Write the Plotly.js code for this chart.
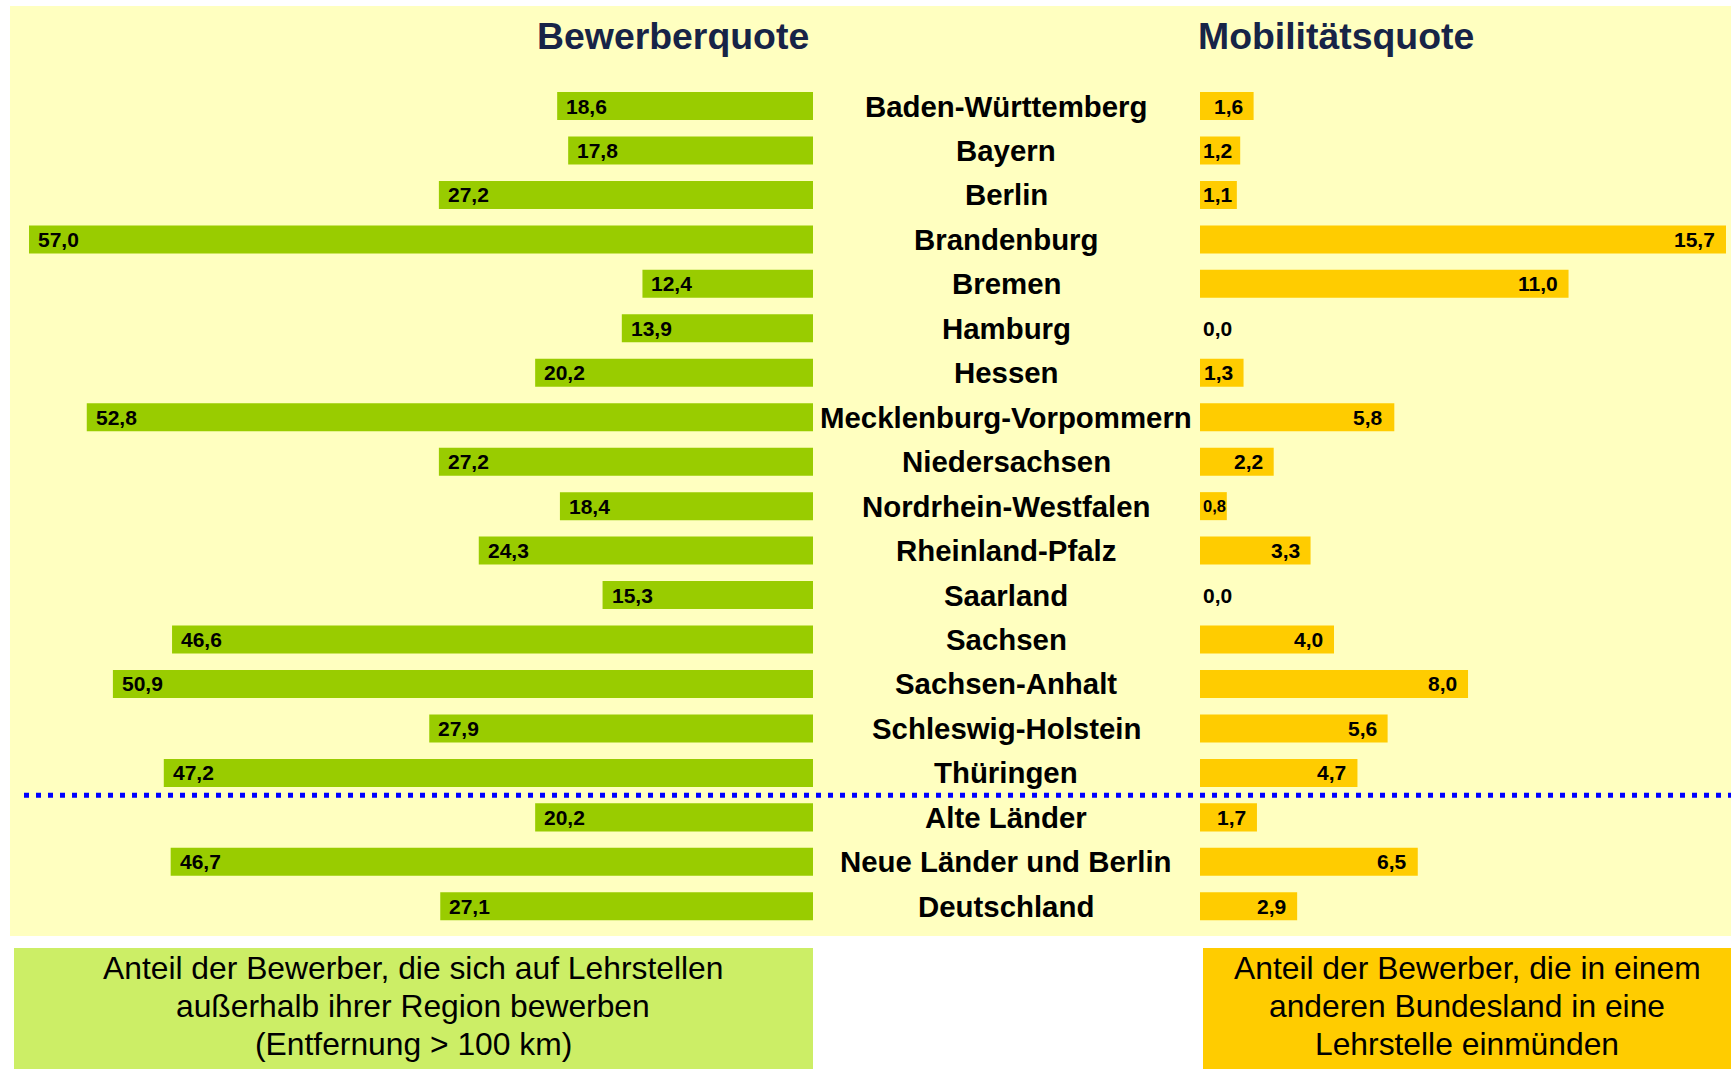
<!DOCTYPE html>
<html>
<head>
<meta charset="utf-8">
<script src="https://cdn.plot.ly/plotly-3.0.1.min.js"></script>
<style>html,body{margin:0;padding:0;background:#fff;}#chart{width:1731px;height:1069px;}</style>
</head>
<body>
<div id="chart"></div>
<script>
const categories = ["Baden-Württemberg","Bayern","Berlin","Brandenburg","Bremen","Hamburg","Hessen","Mecklenburg-Vorpommern","Niedersachsen","Nordrhein-Westfalen","Rheinland-Pfalz","Saarland","Sachsen","Sachsen-Anhalt","Schleswig-Holstein","Thüringen","Alte Länder","Neue Länder und Berlin","Deutschland"];
const bewerberquote = [18.6,17.8,27.2,57.0,12.4,13.9,20.2,52.8,27.2,18.4,24.3,15.3,46.6,50.9,27.9,47.2,20.2,46.7,27.1];
const mobilitaetsquote = [1.6,1.2,1.1,15.7,11.0,0.0,1.3,5.8,2.2,0.8,3.3,0.0,4.0,8.0,5.6,4.7,1.7,6.5,2.9];
const titleLeft = "Bewerberquote";
const titleRight = "Mobilitätsquote";
const noteLeftLines = ["Anteil der Bewerber, die sich auf Lehrstellen", "außerhalb ihrer Region bewerben", "(Entfernung > 100 km)"];
const noteRightLines = ["Anteil der Bewerber, die in einem", "anderen Bundesland in eine", "Lehrstelle einmünden"];

const W = 1731, H = 1069;
const FONT = "Liberation Sans, Arial, sans-serif";
const fmt = v => v.toFixed(1).replace('.', ',');

// geometry (pixels)
const greenRight = 813, greenScale = 784 / 57;      // px per unit
const orangeLeft = 1200, orangeScale = 526 / 15.7;
const row0 = 106, rowStep = (906.3 - 106) / 18;

const xRangeL = [greenRight / greenScale, 0];
const xRangeR = [0, (W - orangeLeft) / orangeScale];
const yRange = [(H - row0) / rowStep, -row0 / rowStep];

const px = x => x / W;
const py = y => 1 - y / H;

const traces = [
  {type:'bar', orientation:'h', x: bewerberquote, y: categories, xaxis:'x', yaxis:'y',
   marker:{color:'#99CC00', line:{width:0}}, width:0.63, hoverinfo:'skip'},
  {type:'bar', orientation:'h', x: mobilitaetsquote, y: categories, xaxis:'x2', yaxis:'y',
   marker:{color:'#FFCC00', line:{width:0}}, width:0.63, hoverinfo:'skip'}
];

const annotations = [];
// category labels
categories.forEach(c => {
  annotations.push({xref:'paper', yref:'y', x: px(1006), y: c, text: '<b>' + c + '</b>',
    showarrow:false, xanchor:'center', yanchor:'middle',
    font:{family:FONT, size:29.4, color:'#000'}});
});
// green value labels (at the outer/left end of bar)
bewerberquote.forEach((v, i) => {
  annotations.push({xref:'x', yref:'y', x: v, y: categories[i], text:'<b>' + fmt(v) + '</b>',
    showarrow:false, xanchor:'left', yanchor:'middle', xshift: 7,
    font:{family:FONT, size:21, color:'#000'}});
});
// orange value labels
mobilitaetsquote.forEach((v, i) => {
  const barPx = v * orangeScale;
  const tw = 29;
  let size = 21, anchor, xs, xv;
  if (v > 0 && barPx < tw + 3) size = 16.5;
  if (barPx - 10 >= tw + 2) { anchor = 'right'; xv = v; xs = -9; }
  else { anchor = 'left'; xv = 0; xs = 1; }
  annotations.push({xref:'x2', yref:'y', x: xv, y: categories[i], text:'<b>' + fmt(v) + '</b>',
    showarrow:false, xanchor: anchor, yanchor:'middle', xshift: xs,
    font:{family:FONT, size:size, color:'#000'}});
});
// titles
annotations.push({xref:'paper', yref:'paper', x: px(811), y: py(36), text:'<b>' + titleLeft + '</b>',
  showarrow:false, xanchor:'right', yanchor:'middle', font:{family:FONT, size:37.4, color:'#172447'}});
annotations.push({xref:'paper', yref:'paper', x: px(1196), y: py(36), text:'<b>' + titleRight + '</b>',
  showarrow:false, xanchor:'left', yanchor:'middle', font:{family:FONT, size:37.4, color:'#172447'}});
// notes (one annotation per line for exact line spacing)
const noteLineY = [968, 1006, 1044];
noteLeftLines.forEach((t, k) => {
  annotations.push({xref:'paper', yref:'paper', x: px(413), y: py(noteLineY[k]), text: t,
    showarrow:false, xanchor:'center', yanchor:'middle',
    font:{family:FONT, size:31.8, color:'#000'}});
});
noteRightLines.forEach((t, k) => {
  annotations.push({xref:'paper', yref:'paper', x: px(1467), y: py(noteLineY[k]), text: t,
    showarrow:false, xanchor:'center', yanchor:'middle',
    font:{family:FONT, size:31.8, color:'#000'}});
});

const shapes = [
  {type:'rect', xref:'paper', yref:'paper', x0: px(10), x1: 1, y0: py(936), y1: py(6),
   fillcolor:'#FFFFC0', line:{width:0}, layer:'below'},
  {type:'rect', xref:'paper', yref:'paper', x0: px(14), x1: px(813), y0: 0, y1: py(948),
   fillcolor:'#CCEE66', line:{width:0}, layer:'below'},
  {type:'rect', xref:'paper', yref:'paper', x0: px(1203), x1: 1, y0: 0, y1: py(948),
   fillcolor:'#FFCC00', line:{width:0}, layer:'below'},
  {type:'line', xref:'paper', yref:'y', x0: px(24), x1: 1, y0: 15.5, y1: 15.5,
   line:{color:'#0000FF', width:5, dash:'5px,7px'}}
];

const axisCommon = {showgrid:false, zeroline:false, showticklabels:false, ticks:'', showline:false, fixedrange:true};

const layout = {
  width: W, height: H, autosize:false,
  margin:{l:0, r:0, t:0, b:0, pad:0},
  paper_bgcolor:'#FFFFFF', plot_bgcolor:'rgba(0,0,0,0)',
  showlegend:false,
  xaxis: Object.assign({domain:[0, px(greenRight)], range: xRangeL, anchor:'y'}, axisCommon),
  xaxis2: Object.assign({domain:[px(orangeLeft), 1], range: xRangeR, anchor:'y'}, axisCommon),
  yaxis: Object.assign({type:'category', domain:[0,1], range: yRange, anchor:'x'}, axisCommon),
  annotations: annotations,
  shapes: shapes,
  bargap: 0.37
};

Plotly.newPlot('chart', traces, layout, {displayModeBar:false, staticPlot:true});
</script>
</body>
</html>
